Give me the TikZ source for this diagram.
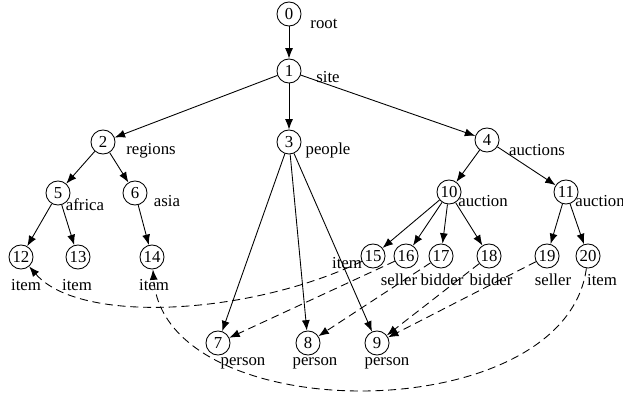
\documentclass[tikz,border=0pt]{standalone}
\usepackage{fontspec}
\setmainfont{Liberation Serif}
\usetikzlibrary{arrows.meta}
\tikzset{
  vtx/.style={circle, draw, line width=0.55pt, minimum size=5.3mm, inner sep=0pt,
              font=\fontsize{10.5}{12}\selectfont},
  lbl/.style={inner sep=0pt, font=\fontsize{10.5}{12}\selectfont},
  tr/.style={-{Latex[length=6.5pt,width=5pt]}, line width=0.55pt},
  rf/.style={tr, dash pattern=on 5pt off 3pt}
}
\begin{document}
\begin{tikzpicture}[x=0.022cm, y=-0.022cm]
  \useasboundingbox (0,0) rectangle (623,398);
  % element nodes
  \node[vtx] (n0) at (289,14) {0};
  \node[vtx] (n1) at (289,71) {1};
  \node[vtx] (n2) at (103,142) {2};
  \node[vtx] (n3) at (289,142) {3};
  \node[vtx] (n4) at (487,140) {4};
  \node[vtx] (n5) at (58,193) {5};
  \node[vtx] (n6) at (135,193) {6};
  \node[vtx] (n10) at (449,192) {10};
  \node[vtx] (n11) at (566,192) {11};
  \node[vtx] (n12) at (21,257) {12};
  \node[vtx] (n13) at (78,257) {13};
  \node[vtx] (n14) at (152,257) {14};
  \node[vtx] (n15) at (373,256) {15};
  \node[vtx] (n16) at (406,256) {16};
  \node[vtx] (n17) at (441,256) {17};
  \node[vtx] (n18) at (489,256) {18};
  \node[vtx] (n19) at (547,256) {19};
  \node[vtx] (n20) at (588,256) {20};
  \node[vtx] (n7) at (218,343) {7};
  \node[vtx] (n8) at (308,343) {8};
  \node[vtx] (n9) at (377,343) {9};
  % tag names
  \node[lbl] (t0) at (324,24) {root};
  \node[lbl] (t1) at (328,77) {site};
  \node[lbl] (t2) at (151,151) {regions};
  \node[lbl] (t3) at (328,150) {people};
  \node[lbl] (t4) at (537,150) {auctions};
  \node[lbl] (t5) at (85,205) {africa};
  \node[lbl] (t6) at (167,201) {asia};
  \node[lbl] (t10) at (483,201) {auction};
  \node[lbl] (t11) at (600,201) {auction};
  \node[lbl] (t12) at (26,285) {item};
  \node[lbl] (t13) at (77,285) {item};
  \node[lbl] (t14) at (154,285) {item};
  \node[lbl] (t15) at (347,263) {item};
  \node[lbl] (t16) at (399,280) {seller};
  \node[lbl] (t17) at (442,280) {bidder};
  \node[lbl] (t18) at (491,280) {bidder};
  \node[lbl] (t19) at (553,280) {seller};
  \node[lbl] (t20) at (602,280) {item};
  \node[lbl] (t7) at (243,363) {person};
  \node[lbl] (t8) at (315,363) {person};
  \node[lbl] (t9) at (387,363) {person};
  % tree edges
  \draw[tr] (n0)--(n1); \draw[tr] (n1)--(n2); \draw[tr] (n1)--(n3); \draw[tr] (n1)--(n4);
  \draw[tr] (n2)--(n5); \draw[tr] (n2)--(n6);
  \draw[tr] (n5)--(n12); \draw[tr] (n5)--(n13); \draw[tr] (n6)--(n14);
  \draw[tr] (n3)--(n7); \draw[tr] (n3)--(n8); \draw[tr] (n3)--(n9);
  \draw[tr] (n4)--(n10); \draw[tr] (n4)--(n11);
  \draw[tr] (n10)--(n15); \draw[tr] (n10)--(n16); \draw[tr] (n10)--(n17); \draw[tr] (n10)--(n18);
  \draw[tr] (n11)--(n19); \draw[tr] (n11)--(n20);
  % references
  \draw[rf] (n15) .. controls (250,315) and (80,325) .. (n12);
  \draw[rf] (n16)--(n7); \draw[rf] (n17)--(n8);
  \draw[rf] (n18)--(n9); \draw[rf] (n19)--(n9);
  \draw[rf] (n20) .. controls (565,430) and (165,430) .. (n14);
\end{tikzpicture}
\end{document}
